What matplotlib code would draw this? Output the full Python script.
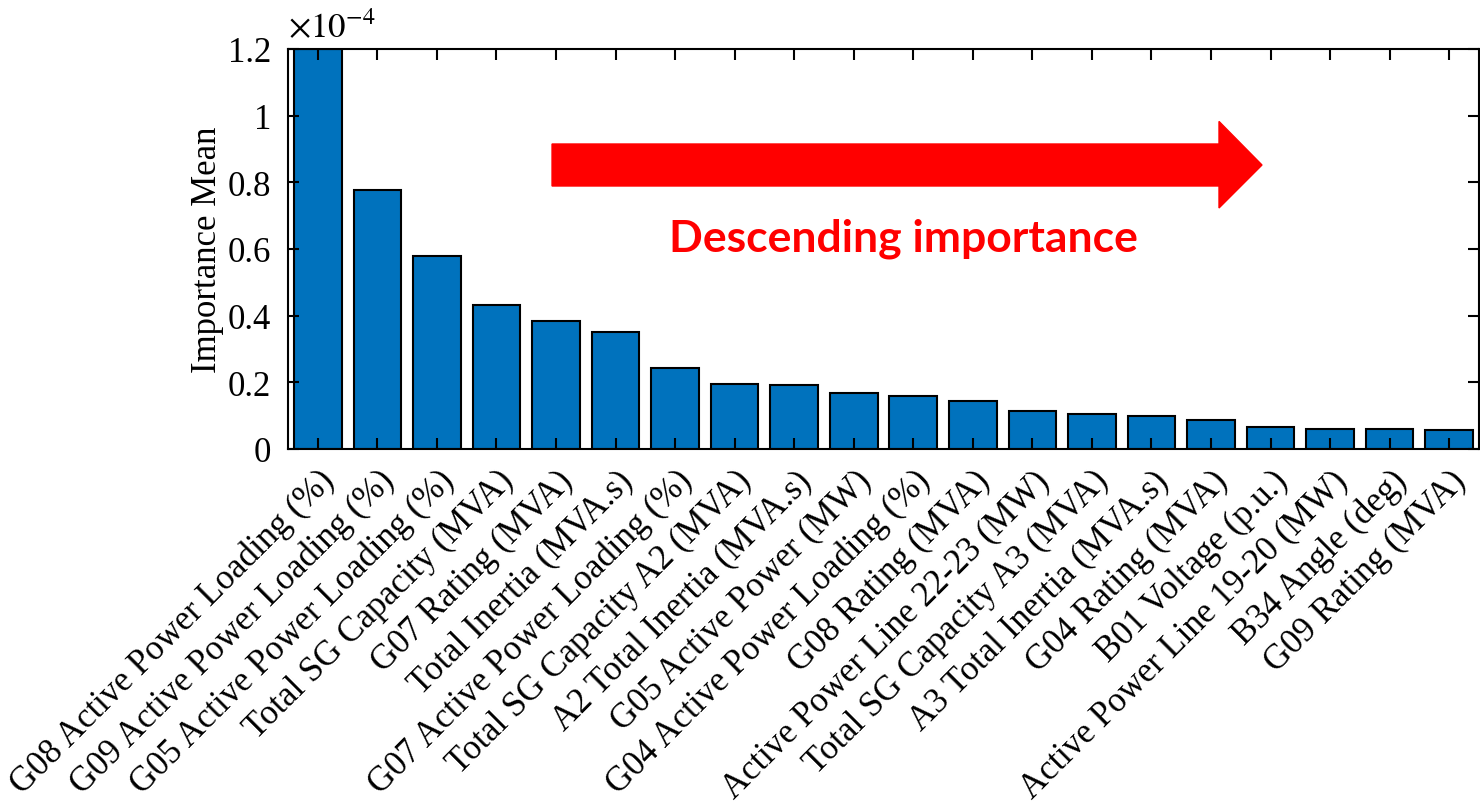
import matplotlib
matplotlib.use("Agg")
import matplotlib.pyplot as plt
from matplotlib.patches import Polygon
from matplotlib.ticker import FuncFormatter, MultipleLocator
from matplotlib.transforms import ScaledTranslation
import numpy as np


# Feature importance, sorted descending
features = [
    "G08 Active Power Loading (%)",
    "G09 Active Power Loading (%)",
    "G05 Active Power Loading (%)",
    "Total SG Capacity (MVA)",
    "G07 Rating (MVA)",
    "Total Inertia (MVA.s)",
    "G07 Active Power Loading (%)",
    "Total SG Capacity A2 (MVA)",
    "A2 Total Inertia (MVA.s)",
    "G05 Active Power (MW)",
    "G04 Active Power Loading (%)",
    "G08 Rating (MVA)",
    "Active Power Line 22-23 (MW)",
    "Total SG Capacity A3 (MVA)",
    "A3 Total Inertia (MVA.s)",
    "G04 Rating (MVA)",
    "B01 Voltage (p.u.)",
    "Active Power Line 19-20 (MW)",
    "B34 Angle (deg)",
    "G09 Rating (MVA)",
]
importance = np.array([
    1.200, 0.778, 0.578, 0.433, 0.385, 0.352, 0.242, 0.196, 0.193, 0.168,
    0.158, 0.145, 0.115, 0.104, 0.100, 0.086, 0.065, 0.061, 0.060, 0.058,
]) * 1e-4

plt.rcParams["font.family"] = "Liberation Serif"
plt.rcParams["mathtext.fontset"] = "stix"

fig = plt.figure(figsize=(14.8, 8.03), dpi=100)
ax = fig.add_axes([288/1480, 1 - 450/803, 1191/1480, 400/803])

x = np.arange(1, len(features) + 1)
ax.bar(x, importance, width=0.8, color="#0072BD", edgecolor="black",
       linewidth=1.5)

ax.set_xlim(0.5, len(features) + 0.5)
ax.set_ylim(0, 1.2e-4)
ax.yaxis.set_major_locator(MultipleLocator(0.2e-4))
ax.yaxis.set_major_formatter(FuncFormatter(lambda v, p: f"{v/1e-4:.10g}"))
ax.set_xticks(x)
ax.set_xticklabels(features, rotation=45, ha="right", va="center",
                   rotation_mode="anchor")

ax.tick_params(direction="in", length=8, width=1.5, labelsize=25,
               top=True, right=True)
ax.tick_params(axis="y", pad=12)
ax.tick_params(axis="x", pad=19)
# nudge the slanted labels a little to the right
shift = ScaledTranslation(12/100, 0, fig.dpi_scale_trans)
for lab in ax.get_xticklabels():
    lab.set_transform(lab.get_transform() + shift)
for s in ax.spines.values():
    s.set_linewidth(1.5)

ax.set_ylabel("Importance Mean", fontsize=25, labelpad=3)
ax.text(0.0, 1.01, r"$\times10^{-4}$", transform=ax.transAxes,
        fontsize=25, ha="left", va="bottom")

# Red arrow with caption
arrow = Polygon([(0.2217, 0.7625), (0.7817, 0.7625), (0.7817, 0.819),
                 (0.8178, 0.71), (0.7817, 0.6025), (0.7817, 0.6575),
                 (0.2217, 0.6575)],
                closed=True, transform=ax.transAxes, color="#FF0000",
                zorder=5)
ax.add_patch(arrow)
ax.text(0.517, 0.496, "Descending importance", transform=ax.transAxes,
        ha="center", va="baseline", color="#FF0000", fontsize=32,
        fontweight="bold", family="Lato", zorder=5)

fig.savefig("out.png", dpi=100)
